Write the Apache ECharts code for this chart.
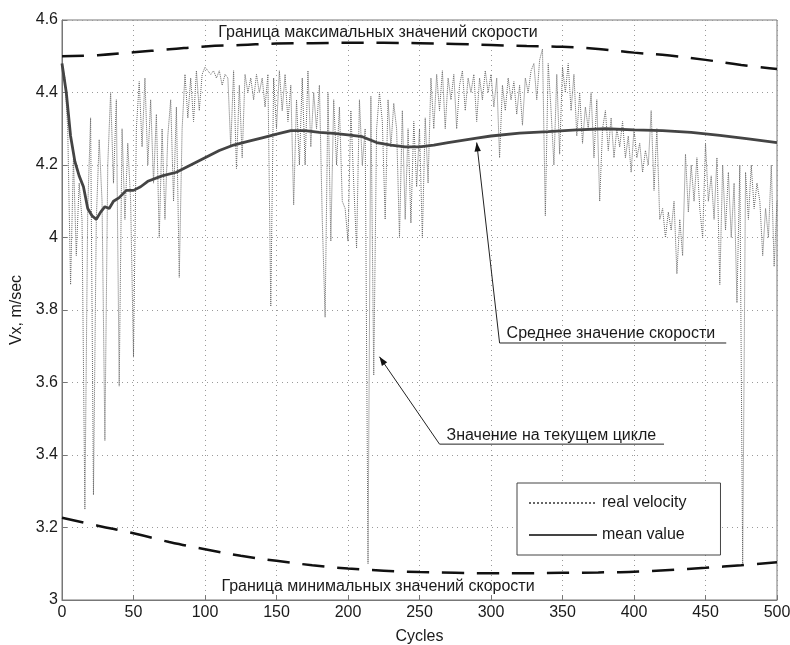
<!DOCTYPE html>
<html>
<head>
<meta charset="utf-8">
<script src="https://cdn.jsdelivr.net/npm/echarts@6/dist/echarts.min.js"></script>
<style>
  html, body { margin: 0; padding: 0; background: #fff; }
  #chart { width: 790px; height: 645px; }
</style>
</head>
<body>
<div id="chart"></div>
<script>
// Measured velocity, one reading every 2 cycles (cycle 0 .. 500)
const velocityStep = 2;
const realVelocity = [
  4.48, 4.44, 4.30, 3.87, 4.22, 3.95, 4.15, 4.05, 3.25, 4.08,
  4.33, 3.29, 4.05, 4.27, 4.10, 3.44, 4.20, 4.40, 4.15, 4.38,
  3.59, 4.30, 4.05, 4.26, 4.10, 3.67, 4.30, 4.43, 4.25, 4.44,
  4.20, 4.38, 4.15, 4.34, 4.00, 4.30, 4.05, 4.28, 4.38, 4.10,
  4.36, 3.89, 4.30, 4.45, 4.33, 4.44, 4.32, 4.46, 4.35, 4.45,
  4.47, 4.46, 4.45, 4.46, 4.44, 4.46, 4.42, 4.45, 4.44, 4.25,
  4.46, 4.19, 4.42, 4.22, 4.45, 4.40, 4.44, 4.38, 4.45, 4.40,
  4.44, 4.36, 4.45, 3.81, 4.44, 4.30, 4.46, 4.35, 4.45, 4.32,
  4.42, 4.09, 4.38, 4.20, 4.44, 4.20, 4.46, 4.25, 4.40, 4.30,
  4.42, 4.05, 3.78, 4.40, 3.99, 4.38, 4.20, 4.36, 4.10, 4.08,
  3.99, 4.35, 4.15, 3.97, 4.38, 4.20, 4.30, 3.10, 4.39, 3.62,
  4.30, 4.40, 4.32, 4.05, 4.38, 4.25, 4.37, 4.30, 4.00, 4.35,
  4.05, 4.30, 4.04, 4.32, 4.14, 4.30, 4.00, 4.33, 4.15, 4.44,
  4.30, 4.45, 4.35, 4.46, 4.30, 4.44, 4.38, 4.45, 4.30, 4.42,
  4.46, 4.35, 4.44, 4.40, 4.45, 4.32, 4.44, 4.38, 4.46, 4.40,
  4.45, 4.36, 4.44, 4.22, 4.42, 4.35, 4.44, 4.38, 4.43, 4.34,
  4.42, 4.31, 4.44, 4.40, 4.46, 4.48, 4.38, 4.49, 4.52, 4.06,
  4.48, 4.35, 4.20, 4.45, 4.23, 4.47, 4.40, 4.48, 4.35, 4.45,
  4.28, 4.40, 4.26, 4.36, 4.30, 4.40, 4.22, 4.38, 4.10, 4.30,
  4.35, 4.24, 4.33, 4.22, 4.30, 4.25, 4.32, 4.22, 4.28, 4.18,
  4.30, 4.22, 4.26, 4.18, 4.24, 4.20, 4.35, 4.13, 4.30, 4.05,
  4.08, 4.00, 4.07, 4.02, 4.10, 3.90, 4.05, 3.95, 4.23, 4.07,
  4.20, 4.10, 4.22, 4.08, 4.00, 4.26, 4.10, 4.17, 4.05, 4.22,
  3.87, 4.20, 4.02, 4.18, 4.00, 4.15, 3.82, 4.20, 3.10, 4.18,
  4.05, 4.20, 4.08, 4.15, 4.10, 3.95, 4.08, 4.00, 4.20, 3.92,
  4.10
];

// Running mean of the velocity
const meanCycles = [0, 3, 6, 9, 12, 15, 18, 21, 24, 27, 30, 33, 36, 40, 45, 50, 55, 60,
  70, 80, 90, 100, 110, 120, 130, 140, 150, 160, 170, 180, 190, 200, 210, 220, 230,
  240, 250, 260, 270, 280, 290, 300, 320, 340, 360, 380, 400, 420, 440, 460, 480, 500];
const meanVelocity = [4.48, 4.40, 4.28, 4.21, 4.17, 4.14, 4.08, 4.06, 4.05, 4.07, 4.085,
  4.08, 4.10, 4.11, 4.13, 4.13, 4.14, 4.155, 4.17, 4.18, 4.20, 4.22, 4.24, 4.255, 4.265,
  4.275, 4.285, 4.295, 4.295, 4.29, 4.287, 4.283, 4.278, 4.262, 4.255, 4.25, 4.25, 4.255,
  4.262, 4.268, 4.274, 4.28, 4.288, 4.292, 4.297, 4.30, 4.297, 4.295, 4.29, 4.282, 4.272,
  4.262];

// Speed limits (upper and lower boundary curves)
const boundCycles = [0, 25, 50, 75, 100, 125, 150, 175, 200, 225, 250, 275, 300, 325,
  350, 375, 400, 425, 450, 475, 500];
const upperBound = [4.500, 4.503, 4.511, 4.519, 4.527, 4.531, 4.535, 4.536, 4.537, 4.537,
  4.536, 4.534, 4.531, 4.528, 4.526, 4.520, 4.510, 4.502, 4.490, 4.476, 4.465];
const lowerBound = [3.227, 3.205, 3.184, 3.160, 3.140, 3.122, 3.108, 3.096, 3.087, 3.081,
  3.077, 3.075, 3.074, 3.074, 3.075, 3.076, 3.078, 3.083, 3.089, 3.096, 3.104];

// Axis ranges
const xRange = { min: 0, max: 500, step: 50 };
const yRange = { min: 3, max: 4.6, step: 0.2 };

const seriesNames = ['real velocity', 'mean value'];
const limitLabels = ['Граница максимальных значений скорости', 'Граница минимальных значений скорости'];
const noteLabels = ['Среднее значение скорости', 'Значение на текущем цикле'];

const FONT = '"Liberation Sans", Arial, sans-serif';
const INK = '#1a1a1a';
const FS = 16;

const pairs = (xs, ys) => ys.map((v, i) => [xs[i], v]);
const velocityData = realVelocity.map((v, i) => [i * velocityStep, v]);

const chart = echarts.init(document.getElementById('chart'), null, { renderer: 'canvas' });

const gridLine = { show: true, lineStyle: { color: '#9a9a9a', type: [1, 4], width: 1 } };
const axisCommon = {
  axisLine: { show: true, lineStyle: { color: '#777', width: 1 } },
  axisTick: { show: true, inside: true, length: 5, lineStyle: { color: '#777' } },
  axisLabel: { color: INK, fontFamily: FONT, fontSize: FS },
  splitLine: gridLine,
  nameTextStyle: { color: INK, fontFamily: FONT, fontSize: FS }
};

chart.setOption({
  animation: false,
  backgroundColor: '#fff',
  grid: { left: 62, right: 13, top: 20, bottom: 45, show: true, borderColor: '#777', borderWidth: 1,
    outerBoundsMode: 'none', containLabel: false },
  xAxis: Object.assign({}, axisCommon, {
    type: 'value', min: xRange.min, max: xRange.max, interval: xRange.step,
    name: 'Cycles', nameLocation: 'middle', nameGap: 29,
    axisLabel: Object.assign({}, axisCommon.axisLabel, { margin: 5 })
  }),
  yAxis: Object.assign({}, axisCommon, {
    type: 'value', min: yRange.min, max: yRange.max, interval: yRange.step,
    name: 'Vx, m/sec', nameLocation: 'middle', nameGap: 36,
    axisLabel: Object.assign({}, axisCommon.axisLabel, { margin: 4 })
  }),
  legend: {
    data: seriesNames,
    orient: 'vertical',
    left: 517, top: 483,
    itemWidth: 68, itemHeight: 14, itemGap: 16,
    padding: [12, 34, 12, 11],
    borderColor: '#444', borderWidth: 1,
    backgroundColor: '#fff',
    itemStyle: { opacity: 0 },
    textStyle: { color: INK, fontFamily: FONT, fontSize: FS }
  },
  series: [
    {
      name: seriesNames[0], type: 'line', data: velocityData,
      symbol: 'none', z: 2, color: '#666',
      lineStyle: { color: '#666', width: 1, type: 'dotted' }
    },
    {
      name: seriesNames[1], type: 'line', data: pairs(meanCycles, meanVelocity),
      symbol: 'none', smooth: false, z: 4, color: '#444',
      lineStyle: { color: '#444', width: 2.8 }
    },
    {
      name: 'upper limit', type: 'line', data: pairs(boundCycles, upperBound),
      symbol: 'none', smooth: true, z: 3, color: '#111',
      lineStyle: { color: '#111', width: 2.5, type: [22, 13] }
    },
    {
      name: 'lower limit', type: 'line', data: pairs(boundCycles, lowerBound),
      symbol: 'none', smooth: true, z: 3, color: '#111',
      lineStyle: { color: '#111', width: 2.5, type: [22, 13] }
    }
  ]
});

// Text labels and leader arrows placed in data coordinates
const px = (p) => chart.convertToPixel({ gridIndex: 0 }, p);

function arrowHead(tip, from, len, half) {
  const dx = tip[0] - from[0], dy = tip[1] - from[1];
  const d = Math.hypot(dx, dy);
  const ux = dx / d, uy = dy / d;
  const bx = tip[0] - ux * len, by = tip[1] - uy * len;
  return [tip, [bx - uy * half, by + ux * half], [bx + uy * half, by - ux * half]];
}

function note(text, tipD, elbowD, endD) {
  const tip = px(tipD), elbow = px(elbowD), end = px(endD);
  return [
    { type: 'polyline', z: 10, shape: { points: [tip, elbow, end] },
      style: { stroke: '#222', lineWidth: 1, fill: null } },
    { type: 'polygon', z: 10, shape: { points: arrowHead(tip, elbow, 9, 3.2) },
      style: { fill: '#111' } },
    { type: 'text', z: 10, x: elbow[0] + 7, y: elbow[1] - 1,
      style: { text: text, fill: INK, font: FS + 'px ' + FONT, textAlign: 'left', textVerticalAlign: 'bottom' } }
  ];
}

function centerLabel(text, at) {
  const p = px(at);
  return { type: 'text', z: 10, x: p[0], y: p[1],
    style: { text: text, fill: INK, font: FS + 'px ' + FONT, textAlign: 'center', textVerticalAlign: 'middle' } };
}

chart.setOption({
  graphic: [
    centerLabel(limitLabels[0], [221, 4.564]),
    centerLabel(limitLabels[1], [221, 3.036]),
    ...note(noteLabels[0], [290, 4.262], [306, 3.709], [464.5, 3.709]),
    ...note(noteLabels[1], [222, 3.671], [264, 3.43], [421, 3.43])
  ]
});
</script>
</body>
</html>
